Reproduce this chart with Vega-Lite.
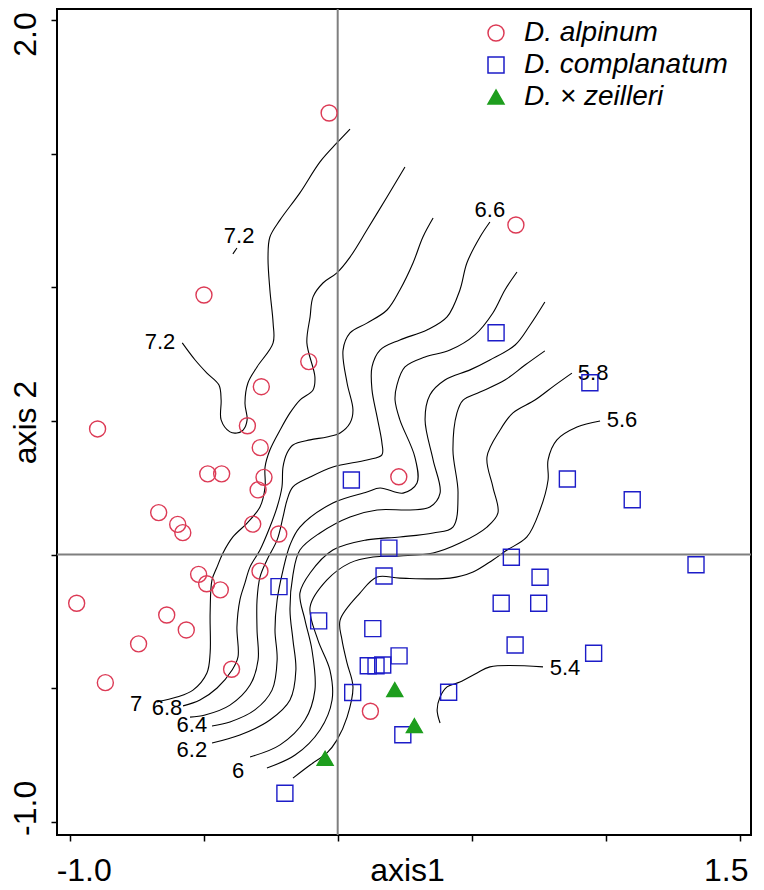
{
  "$schema": "https://vega.github.io/schema/vega-lite/v6.json",
  "width": 694,
  "height": 826,
  "autosize": {"type": "none"},
  "padding": {"left": 57, "top": 9, "right": 13, "bottom": 55},
  "background": "white",
  "config": {"view": {"stroke": "black", "strokeWidth": 2}, "font": "Liberation Sans"},
  "datasets": {
    "pts": [
      {"sp": "D. alpinum", "x": -0.032, "y": 1.652},
      {"sp": "D. alpinum", "x": 0.665, "y": 1.233},
      {"sp": "D. alpinum", "x": -0.499, "y": 0.971},
      {"sp": "D. alpinum", "x": -0.108, "y": 0.722},
      {"sp": "D. alpinum", "x": -0.285, "y": 0.628},
      {"sp": "D. alpinum", "x": -0.896, "y": 0.470},
      {"sp": "D. alpinum", "x": -0.337, "y": 0.482},
      {"sp": "D. alpinum", "x": -0.289, "y": 0.400},
      {"sp": "D. alpinum", "x": -0.485, "y": 0.302},
      {"sp": "D. alpinum", "x": -0.433, "y": 0.302},
      {"sp": "D. alpinum", "x": -0.275, "y": 0.289},
      {"sp": "D. alpinum", "x": -0.297, "y": 0.242},
      {"sp": "D. alpinum", "x": 0.228, "y": 0.291},
      {"sp": "D. alpinum", "x": -0.668, "y": 0.157},
      {"sp": "D. alpinum", "x": -0.597, "y": 0.113},
      {"sp": "D. alpinum", "x": -0.578, "y": 0.082},
      {"sp": "D. alpinum", "x": -0.317, "y": 0.114},
      {"sp": "D. alpinum", "x": -0.220, "y": 0.077},
      {"sp": "D. alpinum", "x": -0.290, "y": -0.062},
      {"sp": "D. alpinum", "x": -0.519, "y": -0.074},
      {"sp": "D. alpinum", "x": -0.489, "y": -0.109},
      {"sp": "D. alpinum", "x": -0.438, "y": -0.132},
      {"sp": "D. alpinum", "x": -0.974, "y": -0.182},
      {"sp": "D. alpinum", "x": -0.638, "y": -0.226},
      {"sp": "D. alpinum", "x": -0.565, "y": -0.282},
      {"sp": "D. alpinum", "x": -0.743, "y": -0.334},
      {"sp": "D. alpinum", "x": -0.396, "y": -0.429},
      {"sp": "D. alpinum", "x": -0.867, "y": -0.479},
      {"sp": "D. alpinum", "x": 0.122, "y": -0.586},
      {"sp": "D. complanatum", "x": 0.591, "y": 0.830},
      {"sp": "D. complanatum", "x": 0.941, "y": 0.643},
      {"sp": "D. complanatum", "x": 0.051, "y": 0.279},
      {"sp": "D. complanatum", "x": 0.857, "y": 0.283},
      {"sp": "D. complanatum", "x": 1.099, "y": 0.205},
      {"sp": "D. complanatum", "x": 0.191, "y": 0.024},
      {"sp": "D. complanatum", "x": 0.648, "y": -0.010},
      {"sp": "D. complanatum", "x": 1.337, "y": -0.038},
      {"sp": "D. complanatum", "x": 0.173, "y": -0.080},
      {"sp": "D. complanatum", "x": 0.755, "y": -0.085},
      {"sp": "D. complanatum", "x": -0.219, "y": -0.120},
      {"sp": "D. complanatum", "x": 0.610, "y": -0.182},
      {"sp": "D. complanatum", "x": 0.750, "y": -0.182},
      {"sp": "D. complanatum", "x": -0.071, "y": -0.248},
      {"sp": "D. complanatum", "x": 0.131, "y": -0.277},
      {"sp": "D. complanatum", "x": 0.662, "y": -0.338},
      {"sp": "D. complanatum", "x": 0.955, "y": -0.369},
      {"sp": "D. complanatum", "x": 0.229, "y": -0.379},
      {"sp": "D. complanatum", "x": 0.114, "y": -0.416},
      {"sp": "D. complanatum", "x": 0.143, "y": -0.416},
      {"sp": "D. complanatum", "x": 0.168, "y": -0.413},
      {"sp": "D. complanatum", "x": 0.056, "y": -0.516},
      {"sp": "D. complanatum", "x": 0.414, "y": -0.515},
      {"sp": "D. complanatum", "x": 0.243, "y": -0.674},
      {"sp": "D. complanatum", "x": -0.197, "y": -0.893},
      {"sp": "D. × zeilleri", "x": 0.213, "y": -0.505},
      {"sp": "D. × zeilleri", "x": 0.286, "y": -0.640},
      {"sp": "D. × zeilleri", "x": -0.047, "y": -0.762}
    ],
    "zero": [{"x": 0, "y": 0}],
    "labels": [
      {"t": "7.2", "x": -0.663, "y": 0.795},
      {"t": "7.2", "x": -0.368, "y": 1.192},
      {"t": "6.6", "x": 0.568, "y": 1.289},
      {"t": "5.8", "x": 0.953, "y": 0.679},
      {"t": "5.6", "x": 1.061, "y": 0.505},
      {"t": "5.4", "x": 0.848, "y": -0.424},
      {"t": "7", "x": -0.752, "y": -0.559},
      {"t": "6.8", "x": -0.637, "y": -0.574},
      {"t": "6.4", "x": -0.544, "y": -0.636},
      {"t": "6.2", "x": -0.544, "y": -0.732},
      {"t": "6", "x": -0.372, "y": -0.810}
    ],
    "contours": [
      {"c": "7.2a", "i": 0, "x": -0.580, "y": 0.792},
      {"c": "7.2a", "i": 1, "x": -0.532, "y": 0.728},
      {"c": "7.2a", "i": 2, "x": -0.488, "y": 0.679},
      {"c": "7.2a", "i": 3, "x": -0.443, "y": 0.634},
      {"c": "7.2a", "i": 4, "x": -0.435, "y": 0.578},
      {"c": "7.2a", "i": 5, "x": -0.435, "y": 0.504},
      {"c": "7.2a", "i": 6, "x": -0.402, "y": 0.459},
      {"c": "7.2a", "i": 7, "x": -0.376, "y": 0.455},
      {"c": "7.2a", "i": 8, "x": -0.353, "y": 0.466},
      {"c": "7.2a", "i": 9, "x": -0.338, "y": 0.504},
      {"c": "7.2a", "i": 10, "x": -0.346, "y": 0.567},
      {"c": "7.2a", "i": 11, "x": -0.335, "y": 0.642},
      {"c": "7.2a", "i": 12, "x": -0.301, "y": 0.702},
      {"c": "7.2a", "i": 13, "x": -0.241, "y": 0.792},
      {"c": "7.2a", "i": 14, "x": -0.241, "y": 0.866},
      {"c": "7.2a", "i": 15, "x": -0.253, "y": 0.990},
      {"c": "7.2a", "i": 16, "x": -0.260, "y": 1.113},
      {"c": "7.2a", "i": 17, "x": -0.253, "y": 1.188},
      {"c": "7.2a", "i": 18, "x": -0.215, "y": 1.252},
      {"c": "7.2a", "i": 19, "x": -0.141, "y": 1.353},
      {"c": "7.2a", "i": 20, "x": -0.066, "y": 1.469},
      {"c": "7.2a", "i": 21, "x": -0.003, "y": 1.540},
      {"c": "7.2a", "i": 22, "x": 0.046, "y": 1.592},
      {"c": "7.2b", "i": 0, "x": -0.391, "y": 1.125},
      {"c": "7.2b", "i": 1, "x": -0.376, "y": 1.147},
      {"c": "7.0", "i": 0, "x": -0.674, "y": -0.551},
      {"c": "7.0", "i": 1, "x": -0.600, "y": -0.533},
      {"c": "7.0", "i": 2, "x": -0.540, "y": -0.507},
      {"c": "7.0", "i": 3, "x": -0.488, "y": -0.443},
      {"c": "7.0", "i": 4, "x": -0.476, "y": -0.368},
      {"c": "7.0", "i": 5, "x": -0.476, "y": -0.218},
      {"c": "7.0", "i": 6, "x": -0.469, "y": -0.095},
      {"c": "7.0", "i": 7, "x": -0.450, "y": -0.046},
      {"c": "7.0", "i": 8, "x": -0.428, "y": 0.006},
      {"c": "7.0", "i": 9, "x": -0.391, "y": 0.066},
      {"c": "7.0", "i": 10, "x": -0.338, "y": 0.118},
      {"c": "7.0", "i": 11, "x": -0.290, "y": 0.178},
      {"c": "7.0", "i": 12, "x": -0.271, "y": 0.253},
      {"c": "7.0", "i": 13, "x": -0.271, "y": 0.328},
      {"c": "7.0", "i": 14, "x": -0.253, "y": 0.391},
      {"c": "7.0", "i": 15, "x": -0.215, "y": 0.466},
      {"c": "7.0", "i": 16, "x": -0.178, "y": 0.530},
      {"c": "7.0", "i": 17, "x": -0.141, "y": 0.578},
      {"c": "7.0", "i": 18, "x": -0.092, "y": 0.616},
      {"c": "7.0", "i": 19, "x": -0.085, "y": 0.664},
      {"c": "7.0", "i": 20, "x": -0.115, "y": 0.792},
      {"c": "7.0", "i": 21, "x": -0.103, "y": 0.889},
      {"c": "7.0", "i": 22, "x": -0.092, "y": 0.964},
      {"c": "7.0", "i": 23, "x": -0.055, "y": 1.016},
      {"c": "7.0", "i": 24, "x": -0.003, "y": 1.054},
      {"c": "7.0", "i": 25, "x": 0.046, "y": 1.113},
      {"c": "7.0", "i": 26, "x": 0.109, "y": 1.214},
      {"c": "7.0", "i": 27, "x": 0.184, "y": 1.338},
      {"c": "7.0", "i": 28, "x": 0.251, "y": 1.450},
      {"c": "6.8", "i": 0, "x": -0.577, "y": -0.566},
      {"c": "6.8", "i": 1, "x": -0.514, "y": -0.544},
      {"c": "6.8", "i": 2, "x": -0.450, "y": -0.499},
      {"c": "6.8", "i": 3, "x": -0.394, "y": -0.432},
      {"c": "6.8", "i": 4, "x": -0.372, "y": -0.383},
      {"c": "6.8", "i": 5, "x": -0.376, "y": -0.271},
      {"c": "6.8", "i": 6, "x": -0.365, "y": -0.170},
      {"c": "6.8", "i": 7, "x": -0.346, "y": -0.106},
      {"c": "6.8", "i": 8, "x": -0.327, "y": -0.046},
      {"c": "6.8", "i": 9, "x": -0.290, "y": 0.017},
      {"c": "6.8", "i": 10, "x": -0.253, "y": 0.103},
      {"c": "6.8", "i": 11, "x": -0.226, "y": 0.178},
      {"c": "6.8", "i": 12, "x": -0.208, "y": 0.253},
      {"c": "6.8", "i": 13, "x": -0.204, "y": 0.328},
      {"c": "6.8", "i": 14, "x": -0.189, "y": 0.380},
      {"c": "6.8", "i": 15, "x": -0.167, "y": 0.410},
      {"c": "6.8", "i": 16, "x": -0.103, "y": 0.429},
      {"c": "6.8", "i": 17, "x": -0.040, "y": 0.440},
      {"c": "6.8", "i": 18, "x": 0.009, "y": 0.455},
      {"c": "6.8", "i": 19, "x": 0.046, "y": 0.492},
      {"c": "6.8", "i": 20, "x": 0.057, "y": 0.541},
      {"c": "6.8", "i": 21, "x": 0.035, "y": 0.642},
      {"c": "6.8", "i": 22, "x": 0.020, "y": 0.765},
      {"c": "6.8", "i": 23, "x": 0.046, "y": 0.829},
      {"c": "6.8", "i": 24, "x": 0.109, "y": 0.866},
      {"c": "6.8", "i": 25, "x": 0.184, "y": 0.915},
      {"c": "6.8", "i": 26, "x": 0.232, "y": 0.990},
      {"c": "6.8", "i": 27, "x": 0.281, "y": 1.091},
      {"c": "6.8", "i": 28, "x": 0.318, "y": 1.188},
      {"c": "6.8", "i": 29, "x": 0.356, "y": 1.259},
      {"c": "6.6", "i": 0, "x": -0.551, "y": -0.608},
      {"c": "6.6", "i": 1, "x": -0.495, "y": -0.600},
      {"c": "6.6", "i": 2, "x": -0.402, "y": -0.563},
      {"c": "6.6", "i": 3, "x": -0.327, "y": -0.488},
      {"c": "6.6", "i": 4, "x": -0.297, "y": -0.394},
      {"c": "6.6", "i": 5, "x": -0.301, "y": -0.282},
      {"c": "6.6", "i": 6, "x": -0.301, "y": -0.170},
      {"c": "6.6", "i": 7, "x": -0.290, "y": -0.084},
      {"c": "6.6", "i": 8, "x": -0.264, "y": -0.020},
      {"c": "6.6", "i": 9, "x": -0.226, "y": 0.055},
      {"c": "6.6", "i": 10, "x": -0.204, "y": 0.141},
      {"c": "6.6", "i": 11, "x": -0.189, "y": 0.204},
      {"c": "6.6", "i": 12, "x": -0.167, "y": 0.253},
      {"c": "6.6", "i": 13, "x": -0.103, "y": 0.290},
      {"c": "6.6", "i": 14, "x": -0.018, "y": 0.328},
      {"c": "6.6", "i": 15, "x": 0.109, "y": 0.354},
      {"c": "6.6", "i": 16, "x": 0.165, "y": 0.373},
      {"c": "6.6", "i": 17, "x": 0.165, "y": 0.418},
      {"c": "6.6", "i": 18, "x": 0.147, "y": 0.515},
      {"c": "6.6", "i": 19, "x": 0.128, "y": 0.616},
      {"c": "6.6", "i": 20, "x": 0.128, "y": 0.702},
      {"c": "6.6", "i": 21, "x": 0.158, "y": 0.765},
      {"c": "6.6", "i": 22, "x": 0.232, "y": 0.803},
      {"c": "6.6", "i": 23, "x": 0.333, "y": 0.840},
      {"c": "6.6", "i": 24, "x": 0.408, "y": 0.889},
      {"c": "6.6", "i": 25, "x": 0.456, "y": 0.990},
      {"c": "6.6", "i": 26, "x": 0.482, "y": 1.091},
      {"c": "6.6", "i": 27, "x": 0.531, "y": 1.188},
      {"c": "6.6", "i": 28, "x": 0.568, "y": 1.244},
      {"c": "6.4", "i": 0, "x": -0.469, "y": -0.641},
      {"c": "6.4", "i": 1, "x": -0.402, "y": -0.626},
      {"c": "6.4", "i": 2, "x": -0.309, "y": -0.581},
      {"c": "6.4", "i": 3, "x": -0.245, "y": -0.507},
      {"c": "6.4", "i": 4, "x": -0.226, "y": -0.394},
      {"c": "6.4", "i": 5, "x": -0.234, "y": -0.282},
      {"c": "6.4", "i": 6, "x": -0.226, "y": -0.170},
      {"c": "6.4", "i": 7, "x": -0.204, "y": -0.058},
      {"c": "6.4", "i": 8, "x": -0.178, "y": 0.036},
      {"c": "6.4", "i": 9, "x": -0.141, "y": 0.103},
      {"c": "6.4", "i": 10, "x": -0.018, "y": 0.193},
      {"c": "6.4", "i": 11, "x": 0.109, "y": 0.234},
      {"c": "6.4", "i": 12, "x": 0.158, "y": 0.249},
      {"c": "6.4", "i": 13, "x": 0.244, "y": 0.230},
      {"c": "6.4", "i": 14, "x": 0.296, "y": 0.268},
      {"c": "6.4", "i": 15, "x": 0.288, "y": 0.365},
      {"c": "6.4", "i": 16, "x": 0.232, "y": 0.504},
      {"c": "6.4", "i": 17, "x": 0.214, "y": 0.578},
      {"c": "6.4", "i": 18, "x": 0.221, "y": 0.634},
      {"c": "6.4", "i": 19, "x": 0.251, "y": 0.702},
      {"c": "6.4", "i": 20, "x": 0.326, "y": 0.739},
      {"c": "6.4", "i": 21, "x": 0.419, "y": 0.765},
      {"c": "6.4", "i": 22, "x": 0.512, "y": 0.822},
      {"c": "6.4", "i": 23, "x": 0.579, "y": 0.904},
      {"c": "6.4", "i": 24, "x": 0.624, "y": 0.990},
      {"c": "6.4", "i": 25, "x": 0.669, "y": 1.057},
      {"c": "6.2", "i": 0, "x": -0.469, "y": -0.705},
      {"c": "6.2", "i": 1, "x": -0.365, "y": -0.675},
      {"c": "6.2", "i": 2, "x": -0.253, "y": -0.619},
      {"c": "6.2", "i": 3, "x": -0.178, "y": -0.544},
      {"c": "6.2", "i": 4, "x": -0.156, "y": -0.432},
      {"c": "6.2", "i": 5, "x": -0.167, "y": -0.319},
      {"c": "6.2", "i": 6, "x": -0.178, "y": -0.207},
      {"c": "6.2", "i": 7, "x": -0.167, "y": -0.076},
      {"c": "6.2", "i": 8, "x": -0.141, "y": 0.017},
      {"c": "6.2", "i": 9, "x": -0.066, "y": 0.081},
      {"c": "6.2", "i": 10, "x": 0.046, "y": 0.141},
      {"c": "6.2", "i": 11, "x": 0.147, "y": 0.167},
      {"c": "6.2", "i": 12, "x": 0.270, "y": 0.167},
      {"c": "6.2", "i": 13, "x": 0.344, "y": 0.178},
      {"c": "6.2", "i": 14, "x": 0.382, "y": 0.230},
      {"c": "6.2", "i": 15, "x": 0.356, "y": 0.354},
      {"c": "6.2", "i": 16, "x": 0.326, "y": 0.504},
      {"c": "6.2", "i": 17, "x": 0.344, "y": 0.597},
      {"c": "6.2", "i": 18, "x": 0.400, "y": 0.653},
      {"c": "6.2", "i": 19, "x": 0.494, "y": 0.691},
      {"c": "6.2", "i": 20, "x": 0.568, "y": 0.728},
      {"c": "6.2", "i": 21, "x": 0.662, "y": 0.784},
      {"c": "6.2", "i": 22, "x": 0.718, "y": 0.859},
      {"c": "6.2", "i": 23, "x": 0.773, "y": 0.945},
      {"c": "6.0", "i": 0, "x": -0.327, "y": -0.757},
      {"c": "6.0", "i": 1, "x": -0.215, "y": -0.712},
      {"c": "6.0", "i": 2, "x": -0.122, "y": -0.619},
      {"c": "6.0", "i": 3, "x": -0.085, "y": -0.507},
      {"c": "6.0", "i": 4, "x": -0.096, "y": -0.357},
      {"c": "6.0", "i": 5, "x": -0.122, "y": -0.245},
      {"c": "6.0", "i": 6, "x": -0.141, "y": -0.144},
      {"c": "6.0", "i": 7, "x": -0.103, "y": -0.069},
      {"c": "6.0", "i": 8, "x": -0.018, "y": 0.017},
      {"c": "6.0", "i": 9, "x": 0.109, "y": 0.055},
      {"c": "6.0", "i": 10, "x": 0.232, "y": 0.066},
      {"c": "6.0", "i": 11, "x": 0.356, "y": 0.081},
      {"c": "6.0", "i": 12, "x": 0.430, "y": 0.103},
      {"c": "6.0", "i": 13, "x": 0.449, "y": 0.230},
      {"c": "6.0", "i": 14, "x": 0.430, "y": 0.391},
      {"c": "6.0", "i": 15, "x": 0.445, "y": 0.530},
      {"c": "6.0", "i": 16, "x": 0.468, "y": 0.578},
      {"c": "6.0", "i": 17, "x": 0.531, "y": 0.608},
      {"c": "6.0", "i": 18, "x": 0.624, "y": 0.653},
      {"c": "6.0", "i": 19, "x": 0.699, "y": 0.709},
      {"c": "6.0", "i": 20, "x": 0.773, "y": 0.762},
      {"c": "5.8", "i": 0, "x": -0.264, "y": -0.798},
      {"c": "5.8", "i": 1, "x": -0.159, "y": -0.750},
      {"c": "5.8", "i": 2, "x": -0.066, "y": -0.656},
      {"c": "5.8", "i": 3, "x": -0.021, "y": -0.544},
      {"c": "5.8", "i": 4, "x": -0.029, "y": -0.432},
      {"c": "5.8", "i": 5, "x": -0.074, "y": -0.319},
      {"c": "5.8", "i": 6, "x": -0.103, "y": -0.196},
      {"c": "5.8", "i": 7, "x": -0.040, "y": -0.095},
      {"c": "5.8", "i": 8, "x": 0.046, "y": -0.031},
      {"c": "5.8", "i": 9, "x": 0.132, "y": -0.009},
      {"c": "5.8", "i": 10, "x": 0.232, "y": -0.005},
      {"c": "5.8", "i": 11, "x": 0.356, "y": 0.006},
      {"c": "5.8", "i": 12, "x": 0.456, "y": 0.043},
      {"c": "5.8", "i": 13, "x": 0.557, "y": 0.103},
      {"c": "5.8", "i": 14, "x": 0.598, "y": 0.156},
      {"c": "5.8", "i": 15, "x": 0.579, "y": 0.253},
      {"c": "5.8", "i": 16, "x": 0.557, "y": 0.365},
      {"c": "5.8", "i": 17, "x": 0.606, "y": 0.466},
      {"c": "5.8", "i": 18, "x": 0.654, "y": 0.530},
      {"c": "5.8", "i": 19, "x": 0.736, "y": 0.578},
      {"c": "5.8", "i": 20, "x": 0.811, "y": 0.634},
      {"c": "5.8", "i": 21, "x": 0.874, "y": 0.679},
      {"c": "5.6", "i": 0, "x": -0.167, "y": -0.836},
      {"c": "5.6", "i": 1, "x": -0.103, "y": -0.787},
      {"c": "5.6", "i": 2, "x": -0.040, "y": -0.742},
      {"c": "5.6", "i": 3, "x": -0.003, "y": -0.694},
      {"c": "5.6", "i": 4, "x": 0.035, "y": -0.608},
      {"c": "5.6", "i": 5, "x": 0.057, "y": -0.495},
      {"c": "5.6", "i": 6, "x": 0.035, "y": -0.406},
      {"c": "5.6", "i": 7, "x": 0.016, "y": -0.319},
      {"c": "5.6", "i": 8, "x": 0.009, "y": -0.245},
      {"c": "5.6", "i": 9, "x": 0.083, "y": -0.144},
      {"c": "5.6", "i": 10, "x": 0.147, "y": -0.084},
      {"c": "5.6", "i": 11, "x": 0.232, "y": -0.088},
      {"c": "5.6", "i": 12, "x": 0.419, "y": -0.088},
      {"c": "5.6", "i": 13, "x": 0.505, "y": -0.065},
      {"c": "5.6", "i": 14, "x": 0.579, "y": -0.020},
      {"c": "5.6", "i": 15, "x": 0.632, "y": 0.017},
      {"c": "5.6", "i": 16, "x": 0.706, "y": 0.066},
      {"c": "5.6", "i": 17, "x": 0.755, "y": 0.167},
      {"c": "5.6", "i": 18, "x": 0.785, "y": 0.279},
      {"c": "5.6", "i": 19, "x": 0.785, "y": 0.354},
      {"c": "5.6", "i": 20, "x": 0.818, "y": 0.429},
      {"c": "5.6", "i": 21, "x": 0.893, "y": 0.477},
      {"c": "5.6", "i": 22, "x": 0.979, "y": 0.500},
      {"c": "5.4", "i": 0, "x": 0.766, "y": -0.420},
      {"c": "5.4", "i": 1, "x": 0.568, "y": -0.420},
      {"c": "5.4", "i": 2, "x": 0.520, "y": -0.443},
      {"c": "5.4", "i": 3, "x": 0.456, "y": -0.477},
      {"c": "5.4", "i": 4, "x": 0.408, "y": -0.495},
      {"c": "5.4", "i": 5, "x": 0.382, "y": -0.533},
      {"c": "5.4", "i": 6, "x": 0.371, "y": -0.581},
      {"c": "5.4", "i": 7, "x": 0.382, "y": -0.630}
    ]
  },
  "layer": [
    {
      "data": {"name": "contours"},
      "mark": {"type": "line", "color": "black", "strokeWidth": 1.1, "interpolate": "catmull-rom"},
      "encoding": {
        "x": {
          "field": "x", "type": "quantitative",
          "scale": {"domain": [-1.0474, 1.5422], "nice": false, "zero": false},
          "axis": {
            "values": [-1, -0.5, 0, 0.5, 1, 1.5],
            "labelExpr": "datum.value == -1 ? '-1.0' : (datum.value == 1.5 ? '1.5' : '')",
            "domain": false, "grid": false,
            "ticks": true, "tickSize": 6, "tickWidth": 1.5, "tickColor": "black",
            "labelFont": "Liberation Sans", "labelFontSize": 32, "labelColor": "black",
            "labelPadding": 39, "labelBaseline": "alphabetic", "labelAlign": "center",
            "labelOffset": {"condition": {"test": "datum.value < 0", "value": 14}, "value": -14},
            "labelOverlap": false, "labelBound": false, "labelFlush": false,
            "title": "axis1", "titleFont": "Liberation Sans", "titleFontSize": 32,
            "titleFontWeight": "normal", "titleColor": "black",
            "titleBaseline": "alphabetic", "titleAlign": "center",
            "titleX": 350, "titleY": 45
          }
        },
        "y": {
          "field": "y", "type": "quantitative",
          "scale": {"domain": [-1.049, 2.041], "nice": false, "zero": false},
          "axis": {
            "values": [-1, -0.5, 0, 0.5, 1, 1.5, 2],
            "labelExpr": "datum.value == 2 ? '2.0' : (datum.value == -1 ? '-1.0' : '')",
            "domain": false, "grid": false,
            "ticks": true, "tickSize": 6, "tickWidth": 1.5, "tickColor": "black",
            "labelFont": "Liberation Sans", "labelFontSize": 32, "labelColor": "black",
            "labelAngle": -90, "labelAlign": "center", "labelBaseline": "alphabetic",
            "labelPadding": 16,
            "labelOffset": {"condition": {"test": "datum.value > 1", "value": 14}, "value": -14},
            "labelOverlap": false, "labelBound": false, "labelFlush": false,
            "title": "axis 2", "titleFont": "Liberation Sans", "titleFontSize": 32,
            "titleFontWeight": "normal", "titleColor": "black",
            "titleAngle": -90, "titleBaseline": "alphabetic", "titleAlign": "center",
            "titleX": -22, "titleY": 413
          }
        },
        "detail": {"field": "c", "type": "nominal"},
        "order": {"field": "i", "type": "quantitative"}
      }
    },
    {
      "data": {"name": "zero"},
      "mark": {"type": "rule", "color": "#7f7f7f", "strokeWidth": 2},
      "encoding": {"x": {"field": "x", "type": "quantitative"}}
    },
    {
      "data": {"name": "zero"},
      "mark": {"type": "rule", "color": "#7f7f7f", "strokeWidth": 2},
      "encoding": {"y": {"field": "y", "type": "quantitative"}}
    },
    {
      "data": {"name": "labels"},
      "mark": {"type": "text", "font": "Liberation Sans", "fontSize": 22, "color": "black", "align": "center", "baseline": "middle"},
      "encoding": {
        "x": {"field": "x", "type": "quantitative"},
        "y": {"field": "y", "type": "quantitative"},
        "text": {"field": "t", "type": "nominal"}
      }
    },
    {
      "data": {"name": "pts"},
      "mark": {"type": "point", "filled": true, "size": 256, "strokeWidth": 1.4, "opacity": 1},
      "encoding": {
        "x": {"field": "x", "type": "quantitative"},
        "y": {"field": "y", "type": "quantitative"},
        "shape": {
          "field": "sp", "type": "nominal",
          "scale": {"domain": ["D. alpinum", "D. complanatum", "D. × zeilleri"], "range": ["circle", "square", "triangle-up"]},
          "legend": {
            "orient": "none", "legendX": 425, "legendY": 10, "title": null, "padding": 0,
            "labelFont": "Liberation Sans", "labelFontSize": 28, "labelFontStyle": "italic", "labelColor": "black",
            "labelLimit": 0,
            "symbolSize": 256, "symbolStrokeWidth": 1.5, "labelOffset": 14, "rowPadding": 4
          }
        },
        "fill": {
          "field": "sp", "type": "nominal",
          "scale": {"domain": ["D. alpinum", "D. complanatum", "D. × zeilleri"], "range": ["transparent", "transparent", "#1e9e1e"]}
        },
        "stroke": {
          "field": "sp", "type": "nominal",
          "scale": {"domain": ["D. alpinum", "D. complanatum", "D. × zeilleri"], "range": ["#dc3a55", "#1c1cc8", "#1e9e1e"]}
        }
      }
    }
  ]
}
